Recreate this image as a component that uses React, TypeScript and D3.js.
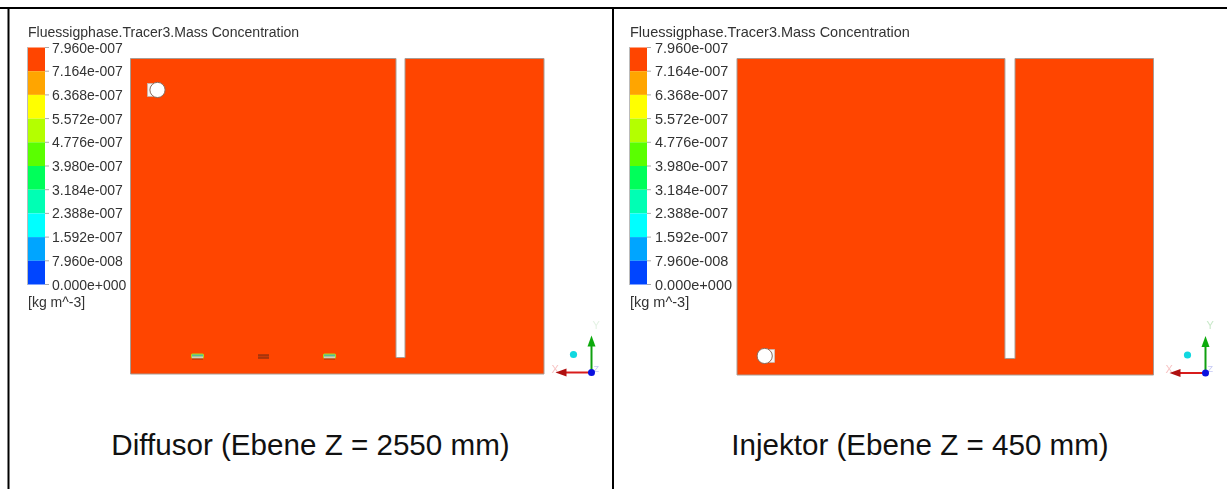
import React from "react";
import * as d3 from "d3";

const FONT = "'Liberation Sans', Arial, sans-serif";
const legendTitle = "Fluessigphase.Tracer3.Mass Concentration";
const legendLabels = ["7.960e-007","7.164e-007","6.368e-007","5.572e-007","4.776e-007","3.980e-007","3.184e-007","2.388e-007","1.592e-007","7.960e-008","0.000e+000"];
const legendValues = [7.96e-7,7.164e-7,6.368e-7,5.572e-7,4.776e-7,3.98e-7,3.184e-7,2.388e-7,1.592e-7,7.96e-8,0];
const bandColors = ["#ff4500","#ffa500","#ffff00","#b4ff00","#5aff00","#00ff5a","#00ffb4","#00ffff","#00a5ff","#0045ff"];
const unitLabel = "[kg m^-3]";
const captions = ["Diffusor (Ebene Z = 2550 mm)", "Injektor (Ebene Z = 450 mm)"];
// model units: width 0..4135, height 0..3160
const domainX = [0, 4135];
const domainY = [0, 3160];
const slotXLeft = [2655, 2745];
const slotXRight = [2660, 2760];
const slotBottom = 165;
const nozzleXLeft = [670, 1330, 1990];
const nozzleKind = ["lit", "dark", "lit"];
const nozzleY = 175;

type PanelCfg = {
  off: number; range: [number, number]; yRange: [number, number]; slot: number[];
  hole: [number, number]; tabDir: number; captionX: number; legendTextX: number;
  titleSize: number; labelSize: number;
};
const panels: PanelCfg[] = [
  { off: 28, range: [130.5, 544], yRange: [374, 58.5], slot: slotXLeft, hole: [270, 2845], tabDir: -1, captionX: 310.5, legendTextX: 52, titleSize: 14.05, labelSize: 14 },
  { off: 630, range: [737, 1153.5], yRange: [375, 58.5], slot: slotXRight, hole: [275, 190], tabDir: 1, captionX: 920, legendTextX: 655, titleSize: 14.5, labelSize: 14.5 },
];

function Triad({ x, y, yColor }: { x: number; y: number; yColor: string }) {
  return (
    <g>
      <text x={x - 40} y={y} fontSize={11} fontFamily={FONT} fill="#f7c4c4">X</text>
      <text x={x + 1} y={y - 44} fontSize={11} fontFamily={FONT} fill={yColor}>Y</text>
      <text x={x + 2} y={y - 1} fontSize={9} fontFamily={FONT} fill="#c4c8f4">Z</text>
      <line x1={x} y1={y} x2={x - 27} y2={y} stroke="#d81c1c" strokeWidth={2} />
      <path d={`M${x - 36},${y} L${x - 25},${y - 4} L${x - 25},${y + 4} Z`} fill="#b01010" />
      <line x1={x} y1={y} x2={x} y2={y - 28} stroke="#10a010" strokeWidth={2} />
      <path d={`M${x},${y - 37} L${x - 4},${y - 26} L${x + 4},${y - 26} Z`} fill="#0caa0c" />
      <circle cx={x} cy={y} r={3.5} fill="#0a10e0" />
      <circle cx={x - 18} cy={y - 18} r={3.6} fill="#10d8e0" />
    </g>
  );
}

function Panel({ cfg, index }: { cfg: PanelCfg; index: number }) {
  const x = d3.scaleLinear().domain(domainX).range(cfg.range);
  const y = d3.scaleLinear().domain(domainY).range(cfg.yRange);
  const cbar = d3.scaleLinear().domain([0, 7.96e-7]).range([284.5, 47.5]);
  const barW = 17;
  const plate = d3.path();
  plate.moveTo(x(domainX[0]), y(domainY[1]));
  plate.lineTo(x(cfg.slot[0]), y(domainY[1]));
  plate.lineTo(x(cfg.slot[0]), y(slotBottom));
  plate.lineTo(x(cfg.slot[1]), y(slotBottom));
  plate.lineTo(x(cfg.slot[1]), y(domainY[1]));
  plate.lineTo(x(domainX[1]), y(domainY[1]));
  plate.lineTo(x(domainX[1]), y(domainY[0]));
  plate.lineTo(x(domainX[0]), y(domainY[0]));
  plate.closePath();
  const hx = x(cfg.hole[0]);
  const hy = y(cfg.hole[1]);
  return (
    <g>
      <g style={{ filter: "blur(0.35px)" }}>
        <text x={cfg.off} y={36.5} fontSize={cfg.titleSize} fontFamily={FONT} fill="#333">{legendTitle}</text>
        {bandColors.map((c, i) => (
          <rect key={c} x={cfg.off} y={cbar(legendValues[i])} width={barW}
            height={cbar(legendValues[i + 1]) - cbar(legendValues[i])} fill={c} />
        ))}
        <line x1={cfg.off - 0.5} x2={cfg.off - 0.5} y1={47} y2={285} stroke="#bbb" strokeWidth={1} />
        {legendLabels.map((l, i) => (
          <g key={l}>
            <line x1={cfg.off + barW} x2={cfg.off + barW + 4} y1={cbar(legendValues[i])} y2={cbar(legendValues[i])} stroke="#aaa" strokeWidth={1} />
            <text x={cfg.legendTextX} y={cbar(legendValues[i]) + 5} fontSize={cfg.labelSize} fontFamily={FONT} fill="#333">{l}</text>
          </g>
        ))}
        <text x={cfg.off} y={306.5} fontSize={cfg.labelSize} fontFamily={FONT} fill="#333">{unitLabel}</text>
        <path d={plate.toString()} fill="#ff4500" stroke="#a89c94" strokeWidth={1} />
        <rect x={hx + cfg.tabDir * 10 - (cfg.tabDir < 0 ? 0 : 6)} y={hy - 6.5} width={6} height={13} fill="#f4f4f4" stroke="#bbb" strokeWidth={0.6} />
        <circle cx={hx} cy={hy} r={7.6} fill="#fff" stroke="#8a6a5a" strokeWidth={1} />
        {index === 0 && nozzleXLeft.map((n, i) => (
          nozzleKind[i] === "lit" ? (
            <g key={n}>
              <rect x={x(n) - 6.5} y={y(nozzleY) - 3} width={13} height={5} rx={1.5} fill="#a8e020" />
              <rect x={x(n) - 5.5} y={y(nozzleY) - 2} width={11} height={2} fill="#58b8a0" />
              <rect x={x(n) - 5.5} y={y(nozzleY)} width={11} height={2} fill="#d8c8c0" />
              <line x1={x(n) - 5.5} x2={x(n) + 5.5} y1={y(nozzleY) + 2.5} y2={y(nozzleY) + 2.5} stroke="#a03010" strokeWidth={1} />
            </g>
          ) : (
            <g key={n}>
              <rect x={x(n) - 5.5} y={y(nozzleY) - 2} width={11} height={4} fill="#c83a08" />
              <line x1={x(n) - 5.5} x2={x(n) + 5.5} y1={y(nozzleY) - 1.5} y2={y(nozzleY) - 1.5} stroke="#8a3010" strokeWidth={1} />
              <line x1={x(n) - 5.5} x2={x(n) + 5.5} y1={y(nozzleY) + 1.5} y2={y(nozzleY) + 1.5} stroke="#8a3010" strokeWidth={1} />
            </g>
          )
        ))}
        <Triad x={index === 0 ? 591.5 : 1205.5} y={index === 0 ? 372.5 : 373} yColor={index === 0 ? "#e4f2e4" : "#c8e8c8"} />
      </g>
      <text x={cfg.captionX} y={455} textAnchor="middle" fontSize={29.6} fontFamily={FONT} fill="#111">{captions[index]}</text>
    </g>
  );
}

export default function App() {
  return (
    <svg width={1227} height={489} style={{ position: "absolute", left: 0, top: 0, background: "#fff" }}>
      <line x1={0} x2={1227} y1={8} y2={8} stroke="#000" strokeWidth={2} />
      <line x1={8.5} x2={8.5} y1={7} y2={489} stroke="#000" strokeWidth={2} />
      <line x1={613} x2={613} y1={7} y2={489} stroke="#000" strokeWidth={2} />
      {panels.map((p, i) => <Panel key={i} cfg={p} index={i} />)}
    </svg>
  );
}
